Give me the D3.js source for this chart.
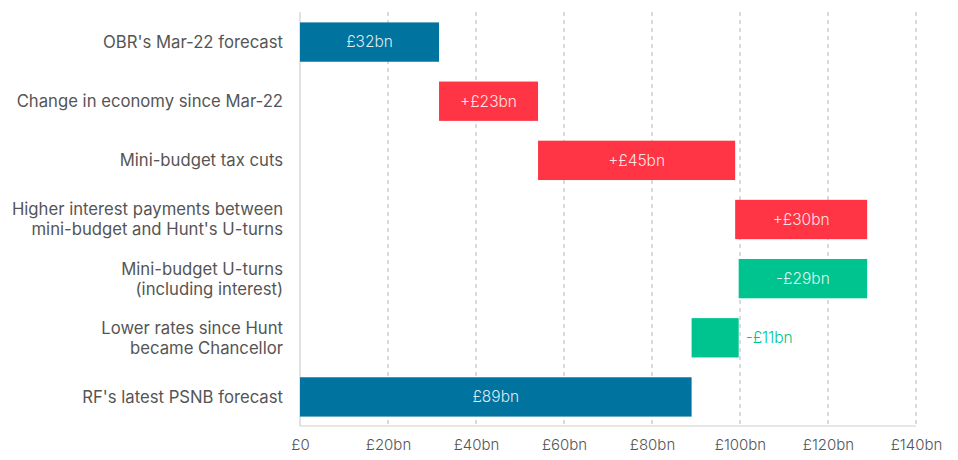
<!DOCTYPE html>
<html>
<head>
<meta charset="utf-8">
<script src="https://cdn.jsdelivr.net/npm/d3@7"></script>
<style>
  body { margin: 0; background: #fff; }
  svg text { font-family: "Inter", "Roboto", sans-serif; }
</style>
</head>
<body>
<div id="chart"></div>
<script>
// Data
const categories = [
  ["OBR's Mar-22 forecast"],
  ["Change in economy since Mar-22"],
  ["Mini-budget tax cuts"],
  ["Higher interest payments between", "mini-budget and Hunt's U-turns"],
  ["Mini-budget U-turns", "(including interest)"],
  ["Lower rates since Hunt", "became Chancellor"],
  ["RF's latest PSNB forecast"]
];
const values = [31.6, 22.5, 44.8, 30.0, -29.2, -10.7, 89.0];
const kinds = ["total", "up", "up", "up", "down", "down", "total"];
const valueLabels = ["£32bn", "+£23bn", "+£45bn", "+£30bn", "-£29bn", "-£11bn", "£89bn"];
const xTicks = [0, 20, 40, 60, 80, 100, 120, 140];
const xTickLabels = ["£0", "£20bn", "£40bn", "£60bn", "£80bn", "£100bn", "£120bn", "£140bn"];

const W = 958, H = 460;
const colors = { total: "#00739e", up: "#ff3545", down: "#00c48f" };

// build waterfall segments
let running = 0;
const bars = values.map((v, i) => {
  let start, end;
  if (kinds[i] === "total") { start = 0; end = v; running = v; }
  else { start = running; end = running + v; running = end; }
  return { i, start: Math.min(start, end), end: Math.max(start, end), kind: kinds[i], label: valueLabels[i], cat: categories[i] };
});

const svg = d3.select("#chart").append("svg")
  .attr("width", W).attr("height", H);

const x = d3.scaleLinear().domain([0, 140]).range([300, 916]);
const y = d3.scaleBand()
  .domain(d3.range(categories.length))
  .range([12.5, 426.5])
  .paddingInner(0.335)
  .paddingOuter(0.1675);

// gridlines
svg.append("g")
  .selectAll("line")
  .data(xTicks.slice(1))
  .enter().append("line")
  .attr("x1", d => x(d)).attr("x2", d => x(d))
  .attr("y1", 12).attr("y2", 426)
  .attr("stroke", "#b5b5b5")
  .attr("stroke-width", 1)
  .attr("stroke-dasharray", "4,4");

// axis lines
svg.append("line")
  .attr("x1", x(0)).attr("x2", x(0)).attr("y1", 12).attr("y2", 426)
  .attr("stroke", "#cfcfcf").attr("stroke-width", 1.2);
svg.append("line")
  .attr("x1", x(0)).attr("x2", x(140)).attr("y1", 426).attr("y2", 426)
  .attr("stroke", "#cfcfcf").attr("stroke-width", 1.2);

// x axis labels
const xAxis = d3.axisBottom(x)
  .tickValues(xTicks)
  .tickFormat((d, i) => xTickLabels[i])
  .tickSize(0)
  .tickPadding(13);
const gx = svg.append("g").attr("transform", "translate(0,426)").call(xAxis);
gx.select(".domain").remove();
gx.selectAll("text")
  .attr("fill", "#555")
  .style("font-size", "15px")
  .style("font-weight", "300")
  .style("font-family", "Inter, Roboto, sans-serif");

// bars
svg.append("g")
  .selectAll("rect")
  .data(bars)
  .enter().append("rect")
  .attr("x", d => x(d.start))
  .attr("width", d => x(d.end) - x(d.start))
  .attr("y", d => y(d.i))
  .attr("height", y.bandwidth())
  .attr("fill", d => colors[d.kind]);

// value labels
const narrow = d => (x(d.end) - x(d.start)) < 70;
svg.append("g")
  .selectAll("text")
  .data(bars)
  .enter().append("text")
  .attr("x", d => narrow(d) ? x(d.end) + 7 : (x(d.start) + x(d.end)) / 2)
  .attr("y", d => y(d.i) + y.bandwidth() / 2)
  .attr("dy", "0.35em")
  .attr("text-anchor", d => narrow(d) ? "start" : "middle")
  .attr("fill", d => narrow(d) ? colors[d.kind] : "rgba(255,255,255,0.88)")
  .style("font-size", "15.5px")
  .style("font-weight", "300")
  .text(d => d.label);

// category labels
const cat = svg.append("g")
  .selectAll("text")
  .data(bars)
  .enter().append("text")
  .attr("text-anchor", "end")
  .attr("fill", "#555")
  .style("font-size", "16.7px")
  .attr("transform", d => `translate(283,${y(d.i) + y.bandwidth() / 2})`);

cat.selectAll("tspan")
  .data(d => d.cat.map((t, j) => ({ t, j, n: d.cat.length })))
  .enter().append("tspan")
  .attr("x", 0)
  .attr("y", d => (d.j - (d.n - 1) / 2) * 20)
  .attr("dy", "0.35em")
  .text(d => d.t);
</script>
</body>
</html>
